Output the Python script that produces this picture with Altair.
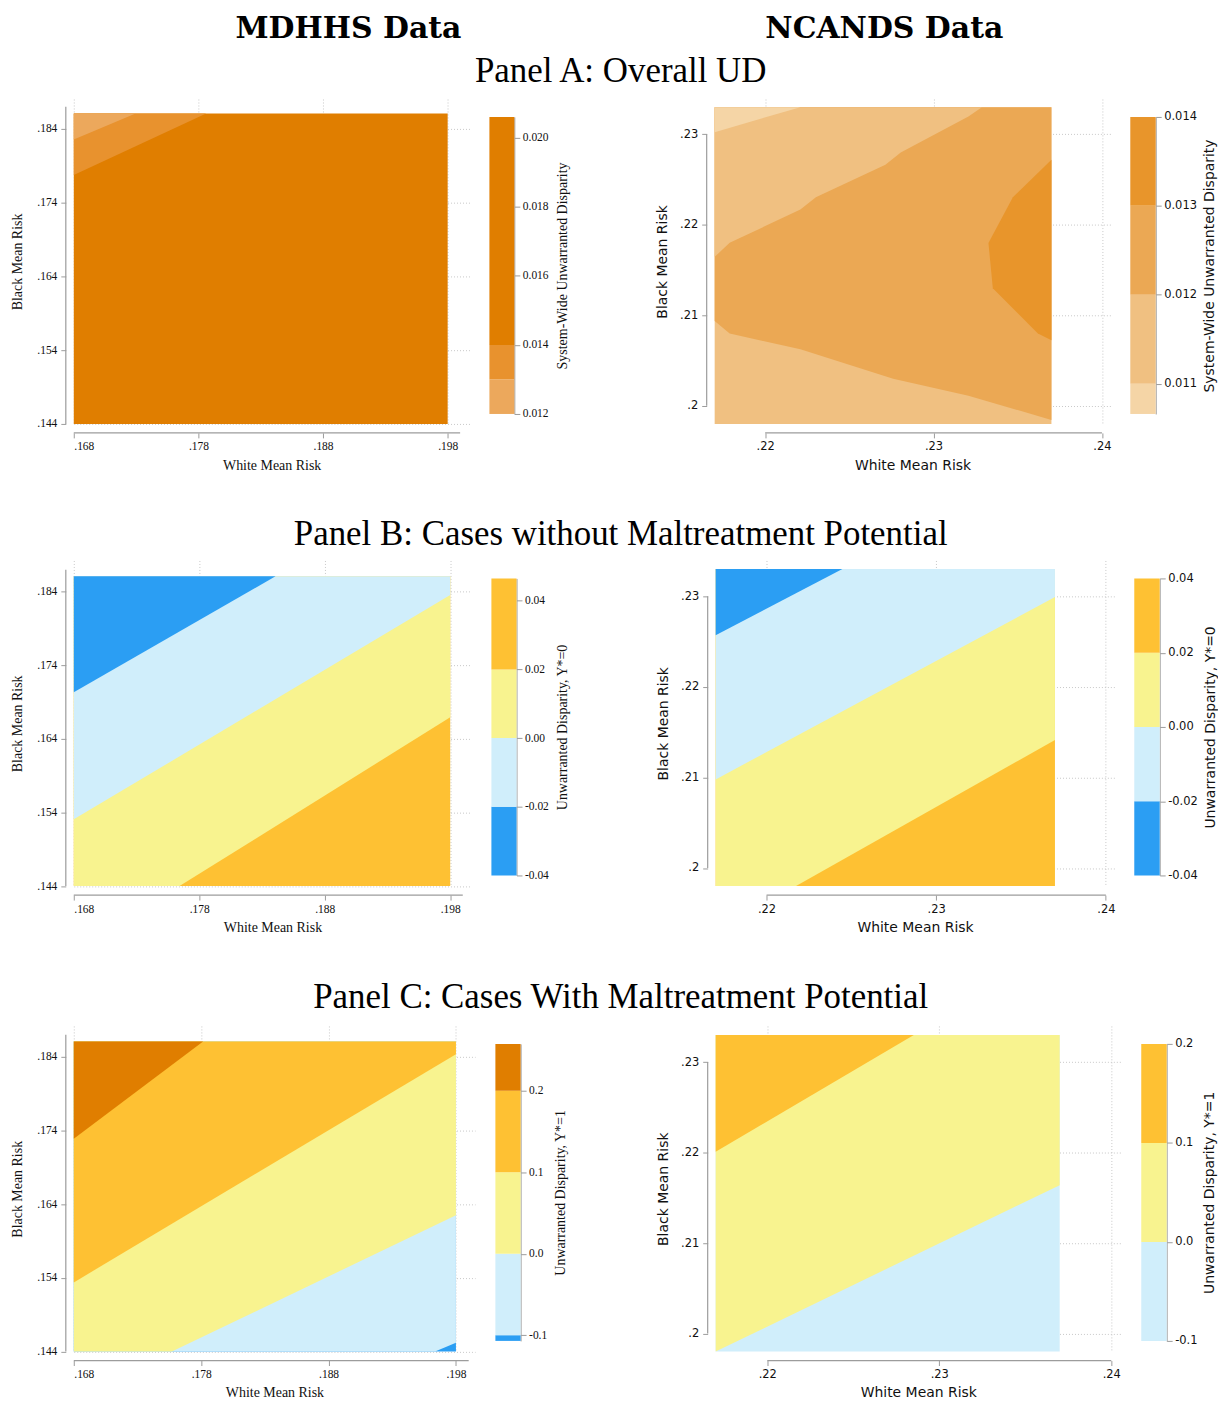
import altair as alt
import pandas as pd

# ---------------- text ----------------
COL_TITLES = ["MDHHS Data", "NCANDS Data"]
ROW_TITLES = [
    "Panel A: Overall UD",
    "Panel B: Cases without Maltreatment Potential",
    "Panel C: Cases With Maltreatment Potential",
]
X_TITLE = "White Mean Risk"
Y_TITLE = "Black Mean Risk"
BAR_TITLES = [
    "System-Wide Unwarranted Disparity",
    "Unwarranted Disparity, Y*=0",
    "Unwarranted Disparity, Y*=1",
]

# ---------------- colours ----------------
DARK_ORANGE = "#E07E00"
ORANGE = "#FEC133"
YELLOW = "#F8F38F"
LIGHT_BLUE = "#D0EEFB"
BLUE = "#2B9EF3"
A_MD_MED = "#E8922E"
A_MD_LIGHT = "#ECA85C"
A_NC_C4 = "#E8952B"
A_NC_C3 = "#EBA854"
A_NC_C2 = "#F0C081"
A_NC_C1 = "#F5D5A6"

# ---------------- grids / ticks ----------------
MD_X_EXTENT = [0.168, 0.198]
MD_Y_EXTENT = [0.144, 0.1861]
MD_X_TICKS = [0.168, 0.178, 0.188, 0.198]
MD_Y_TICKS = [0.144, 0.154, 0.164, 0.174, 0.184]
MD_X_AXIS_LINE = [0.168, 0.199]
MD_Y_AXIS_LINE = [0.144, 0.187]

NC_X_EXTENT = [0.217, 0.237]
NC_Y_EXTENT = [0.198, 0.233]
NC_X_TICKS = [0.22, 0.23, 0.24]
NC_Y_TICKS = [0.2, 0.21, 0.22, 0.23]
NC_X_AXIS_LINE = [0.22, 0.24]
NC_Y_AXIS_LINE = [0.2, 0.23]

# ---------------- contour regions (x points, boundary y points, colour) ----------------
A_MD_BASE = DARK_ORANGE
A_MD_REGIONS = [
    ([0.168, 0.17862], [0.17774, 0.1861], A_MD_MED),
    ([0.168, 0.17296], [0.18255, 0.1861], A_MD_LIGHT),
]
A_NC_BASE = A_NC_C2
A_NC_REGIONS = [
    ([0.217, 0.21789, 0.22209, 0.2276, 0.23207, 0.237],
     [0.20938, 0.20798, 0.20626, 0.203, 0.20112, 0.19844], A_NC_C3),
    ([0.217, 0.21789, 0.22209, 0.22301, 0.22714, 0.22805, 0.23207, 0.23287],
     [0.21646, 0.21801, 0.22169, 0.22304, 0.22664, 0.228, 0.23197, 0.233], A_NC_C2),
    ([0.217, 0.22209], [0.23024, 0.233], A_NC_C1),
]
A_NC_HREGIONS = [
    ([0.20725, 0.20798, 0.21298, 0.218, 0.22304, 0.22719],
     [0.237, 0.2362, 0.23352, 0.23326, 0.23471, 0.237], A_NC_C4),
]

B_MD_BASE = ORANGE
B_MD_REGIONS = [
    ([0.168, 0.17643, 0.198], [0.144, 0.144, 0.16694], YELLOW),
    ([0.168, 0.198], [0.15307, 0.18355], LIGHT_BLUE),
    ([0.168, 0.18408], [0.17033, 0.1861], BLUE),
]
B_NC_BASE = ORANGE
B_NC_REGIONS = [
    ([0.217, 0.22174, 0.237], [0.198, 0.198, 0.21414], YELLOW),
    ([0.217, 0.237], [0.20978, 0.22991], LIGHT_BLUE),
    ([0.217, 0.22447], [0.2257, 0.233], BLUE),
]

C_MD_BASE = BLUE
C_MD_REGIONS = [
    ([0.168, 0.19636, 0.198], [0.144, 0.144, 0.14518], LIGHT_BLUE),
    ([0.168, 0.1757, 0.198], [0.144, 0.144, 0.1625], YELLOW),
    ([0.168, 0.198], [0.15339, 0.18438], ORANGE),
    ([0.168, 0.17815], [0.17288, 0.1861], DARK_ORANGE),
]
C_NC_BASE = LIGHT_BLUE
C_NC_REGIONS = [
    ([0.217, 0.237], [0.198, 0.2164], YELLOW),
    ([0.217, 0.22852], [0.22008, 0.233], ORANGE),
]

# ---------------- colour bars (bin low, bin high, colour) ----------------
A_MD_BAR_LO = [0.012, 0.013, 0.014]
A_MD_BAR_HI = [0.013, 0.014, 0.0206]
A_MD_BAR_COL = [A_MD_LIGHT, A_MD_MED, DARK_ORANGE]
A_MD_BAR_TICKS = [0.012, 0.014, 0.016, 0.018, 0.020]

A_NC_BAR_LO = [0.01066, 0.011, 0.012, 0.013]
A_NC_BAR_HI = [0.011, 0.012, 0.013, 0.014]
A_NC_BAR_COL = [A_NC_C1, A_NC_C2, A_NC_C3, A_NC_C4]
A_NC_BAR_TICKS = [0.011, 0.012, 0.013, 0.014]

B_MD_BAR_LO = [-0.04, -0.02, 0.0, 0.02]
B_MD_BAR_HI = [-0.02, 0.0, 0.02, 0.0465]
B_NC_BAR_LO = [-0.04, -0.02, 0.0, 0.02]
B_NC_BAR_HI = [-0.02, 0.0, 0.02, 0.04]
B_BAR_COL = [BLUE, LIGHT_BLUE, YELLOW, ORANGE]
B_BAR_TICKS = [-0.04, -0.02, 0.0, 0.02, 0.04]

C_MD_BAR_LO = [-0.107, -0.1, 0.0, 0.1, 0.2]
C_MD_BAR_HI = [-0.1, 0.0, 0.1, 0.2, 0.2575]
C_MD_BAR_COL = [BLUE, LIGHT_BLUE, YELLOW, ORANGE, DARK_ORANGE]
C_NC_BAR_LO = [-0.1, 0.0, 0.1]
C_NC_BAR_HI = [0.0, 0.1, 0.2]
C_NC_BAR_COL = [LIGHT_BLUE, YELLOW, ORANGE]
C_BAR_TICKS = [-0.1, 0.0, 0.1, 0.2]

# ---------------- styling ----------------
SERIF = "Liberation Serif"
SANS = "DejaVu Sans"
GREY = "#9c9c9c"
GRID = "#c8c8c8"
TXT = "#111111"
AXIS_LAB = "replace(format(datum.value, '.3~f'), '0.', '.')"


def contour(base, regions, hregions, xext, yext, xdom, ydom, xticks, yticks,
            xline, yline, w, h, font, ytp, xtp):
    xs = alt.Scale(domain=xdom, nice=False, zero=False)
    ys = alt.Scale(domain=ydom, nice=False, zero=False)
    xax = alt.Axis(values=xticks, labelExpr=AXIS_LAB, offset=9, domain=False,
                   tickSize=5, tickColor=GREY, grid=True, gridColor=GRID,
                   gridDash=[1, 2], labelFont=font, labelFontSize=11.5,
                   labelColor=TXT, labelPadding=3, titleFont=font,
                   titleFontSize=14, titleFontWeight="normal", titleColor=TXT,
                   titlePadding=xtp)
    yax = alt.Axis(values=yticks, labelExpr=AXIS_LAB, offset=8, domain=False,
                   tickSize=5, tickColor=GREY, grid=True, gridColor=GRID,
                   gridDash=[1, 2], labelFont=font, labelFontSize=11.5,
                   labelColor=TXT, labelPadding=4, titleFont=font,
                   titleFontSize=14, titleFontWeight="normal", titleColor=TXT,
                   titlePadding=ytp)

    def X(f):
        return alt.X(f, type="quantitative", scale=xs, axis=xax, title=X_TITLE)

    def Y(f):
        return alt.Y(f, type="quantitative", scale=ys, axis=yax, title=Y_TITLE)

    layers = []
    bdf = pd.DataFrame({"x": [xext[0]], "x2": [xext[1]], "y": [yext[0]], "y2": [yext[1]]})
    layers.append(alt.Chart(bdf).mark_rect(color=base).encode(
        x=X("x"), x2="x2", y=Y("y"), y2="y2"))
    for xv, yv, col in regions:
        df = pd.DataFrame({"x": xv, "y": yv, "y2": [yext[1]] * len(xv)})
        layers.append(alt.Chart(df).mark_area(color=col, orient="vertical").encode(
            x=X("x"), y=Y("y"), y2="y2"))
    for yv, xv, col in hregions:
        df = pd.DataFrame({"y": yv, "x": xv, "x2": [xext[1]] * len(yv)})
        layers.append(alt.Chart(df).mark_area(color=col, orient="horizontal").encode(
            y=Y("y"), x=X("x"), x2="x2"))
    xl = pd.DataFrame({"x": [xline[0]], "x2": [xline[1]]})
    layers.append(alt.Chart(xl).mark_rule(color=GREY, strokeWidth=1.2).encode(
        x=X("x"), x2="x2", y=alt.value(h + 9)))
    yl = pd.DataFrame({"y": [yline[0]], "y2": [yline[1]]})
    layers.append(alt.Chart(yl).mark_rule(color=GREY, strokeWidth=1.2).encode(
        y=Y("y"), y2="y2", x=alt.value(-8)))
    return alt.layer(*layers).properties(width=w, height=h)


def colorbar(lo, hi, cols, dom, ticks, fmt, title, font, h, w, tp):
    df = pd.DataFrame({"lo": lo, "hi": hi, "c": cols})
    lab = "replace(format(datum.value, '" + fmt + "'), '\u2212', '-')"
    return alt.Chart(df).mark_rect().encode(
        x=alt.value(0), x2=alt.value(w),
        y=alt.Y("lo:Q", scale=alt.Scale(domain=dom, range=[316, 18], nice=False, zero=False),
                axis=alt.Axis(orient="right", values=ticks, labelExpr=lab, domain=True,
                              domainColor=GREY, tickColor=GREY, tickSize=5.5,
                              labelPadding=2.5, labelFont=font, labelFontSize=11.5,
                              labelColor=TXT, grid=False, title=title, titleFont=font,
                              titleFontSize=14, titleFontWeight="normal", titleColor=TXT,
                              titleAngle=270, titleBaseline="top", titlePadding=tp)),
        y2="hi:Q",
        color=alt.Color("c:N", scale=None),
    ).properties(width=w, height=h)


def blank(w, h):
    return alt.Chart(pd.DataFrame({"a": [0]})).mark_rect(opacity=0).encode(
        x=alt.value(0), x2=alt.value(1), y=alt.value(0), y2=alt.value(1)
    ).properties(width=w, height=h)


def text_block(h, items):
    """Blank strip of height h holding title texts: (text, cx, top_y, font, size, weight)."""
    layers = [blank(1000, h)]
    for t, cx, ty, font, size, weight in items:
        layers.append(alt.Chart(pd.DataFrame({"t": [t]})).mark_text(
            font=font, fontSize=size, fontWeight=weight, baseline="top",
            align="center", color="#000000").encode(
            text="t:N", x=alt.value(cx), y=alt.value(ty)))
    return alt.layer(*layers).properties(width=1000, height=h)


def row(cl, bl, gap, cr, br):
    return alt.hconcat(cl, bl, blank(gap, 10), cr, br, spacing=20, bounds="flush")


rowA = row(
    contour(A_MD_BASE, A_MD_REGIONS, [], MD_X_EXTENT, MD_Y_EXTENT, [0.168, 0.19975], [0.144, 0.18805],
            MD_X_TICKS, MD_Y_TICKS, MD_X_AXIS_LINE, MD_Y_AXIS_LINE, 397, 326, SERIF, 12, 6),
    colorbar(A_MD_BAR_LO, A_MD_BAR_HI, A_MD_BAR_COL, [0.012, 0.0206], A_MD_BAR_TICKS, ".3f",
             BAR_TITLES[0], SERIF, 326, 25, 7),
    160.3,
    contour(A_NC_BASE, A_NC_REGIONS, A_NC_HREGIONS, NC_X_EXTENT, NC_Y_EXTENT, [0.217, 0.2405], [0.198, 0.2339],
            NC_X_TICKS, NC_Y_TICKS, NC_X_AXIS_LINE, NC_Y_AXIS_LINE, 397, 326, SANS, 10, 6),
    colorbar(A_NC_BAR_LO, A_NC_BAR_HI, A_NC_BAR_COL, [0.01066, 0.014], A_NC_BAR_TICKS, ".3f",
             BAR_TITLES[0], SANS, 326, 25.5, 6),
)

rowB = row(
    contour(B_MD_BASE, B_MD_REGIONS, [], MD_X_EXTENT, MD_Y_EXTENT, [0.168, 0.19967], [0.144, 0.18825],
            MD_X_TICKS, MD_Y_TICKS, MD_X_AXIS_LINE, MD_Y_AXIS_LINE, 398.7, 326.7, SERIF, 12, 6),
    colorbar(B_MD_BAR_LO, B_MD_BAR_HI, B_BAR_COL, [-0.04, 0.0465], B_BAR_TICKS, ".2f",
             BAR_TITLES[1], SERIF, 326.7, 25.2, 7),
    158.05,
    contour(B_NC_BASE, B_NC_REGIONS, [], NC_X_EXTENT, NC_Y_EXTENT, [0.217, 0.2405], [0.198, 0.23395],
            NC_X_TICKS, NC_Y_TICKS, NC_X_AXIS_LINE, NC_Y_AXIS_LINE, 400, 326.7, SANS, 10, 6),
    colorbar(B_NC_BAR_LO, B_NC_BAR_HI, B_BAR_COL, [-0.04, 0.04], B_BAR_TICKS, ".2f",
             BAR_TITLES[1], SANS, 326.7, 25.5, 6),
)

rowC = row(
    contour(C_MD_BASE, C_MD_REGIONS, [], MD_X_EXTENT, MD_Y_EXTENT, [0.168, 0.1995], [0.144, 0.18821],
            MD_X_TICKS, MD_Y_TICKS, MD_X_AXIS_LINE, MD_Y_AXIS_LINE, 402.6, 326.7, SERIF, 12, 6),
    colorbar(C_MD_BAR_LO, C_MD_BAR_HI, C_MD_BAR_COL, [-0.107, 0.2575], C_BAR_TICKS, ".1f",
             BAR_TITLES[2], SERIF, 326.7, 25.3, 7),
    154.05,
    contour(C_NC_BASE, C_NC_REGIONS, [], NC_X_EXTENT, NC_Y_EXTENT, [0.217, 0.24056], [0.198, 0.2340],
            NC_X_TICKS, NC_Y_TICKS, NC_X_AXIS_LINE, NC_Y_AXIS_LINE, 406.6, 326.7, SANS, 10, 6),
    colorbar(C_NC_BAR_LO, C_NC_BAR_HI, C_NC_BAR_COL, [-0.1, 0.2], C_BAR_TICKS, ".1f",
             BAR_TITLES[2], SANS, 326.7, 25.5, 6),
)

HEAD_FONT = "DejaVu Serif"
ROW_FONT = SERIF
T0 = text_block(89, [
    (COL_TITLES[0], 275.6, 3.3, HEAD_FONT, 30, "bold"),
    (COL_TITLES[1], 813.2, 3.3, HEAD_FONT, 30, "bold"),
    (ROW_TITLES[0], 548.7, 44.3, ROW_FONT, 35, "normal"),
])
T1 = text_block(87.6, [(ROW_TITLES[1], 548.7, 44.0, ROW_FONT, 35, "normal")])
T2 = text_block(90.4, [(ROW_TITLES[2], 548.7, 44.8, ROW_FONT, 35, "normal")])

chart = alt.vconcat(T0, rowA, T1, rowB, T2, rowC, spacing=0).configure_view(stroke=None).properties(
    padding={"left": 2, "top": 0, "right": 0, "bottom": 0})

chart.save("out.html", embed_options={"renderer": "svg", "actions": False})
